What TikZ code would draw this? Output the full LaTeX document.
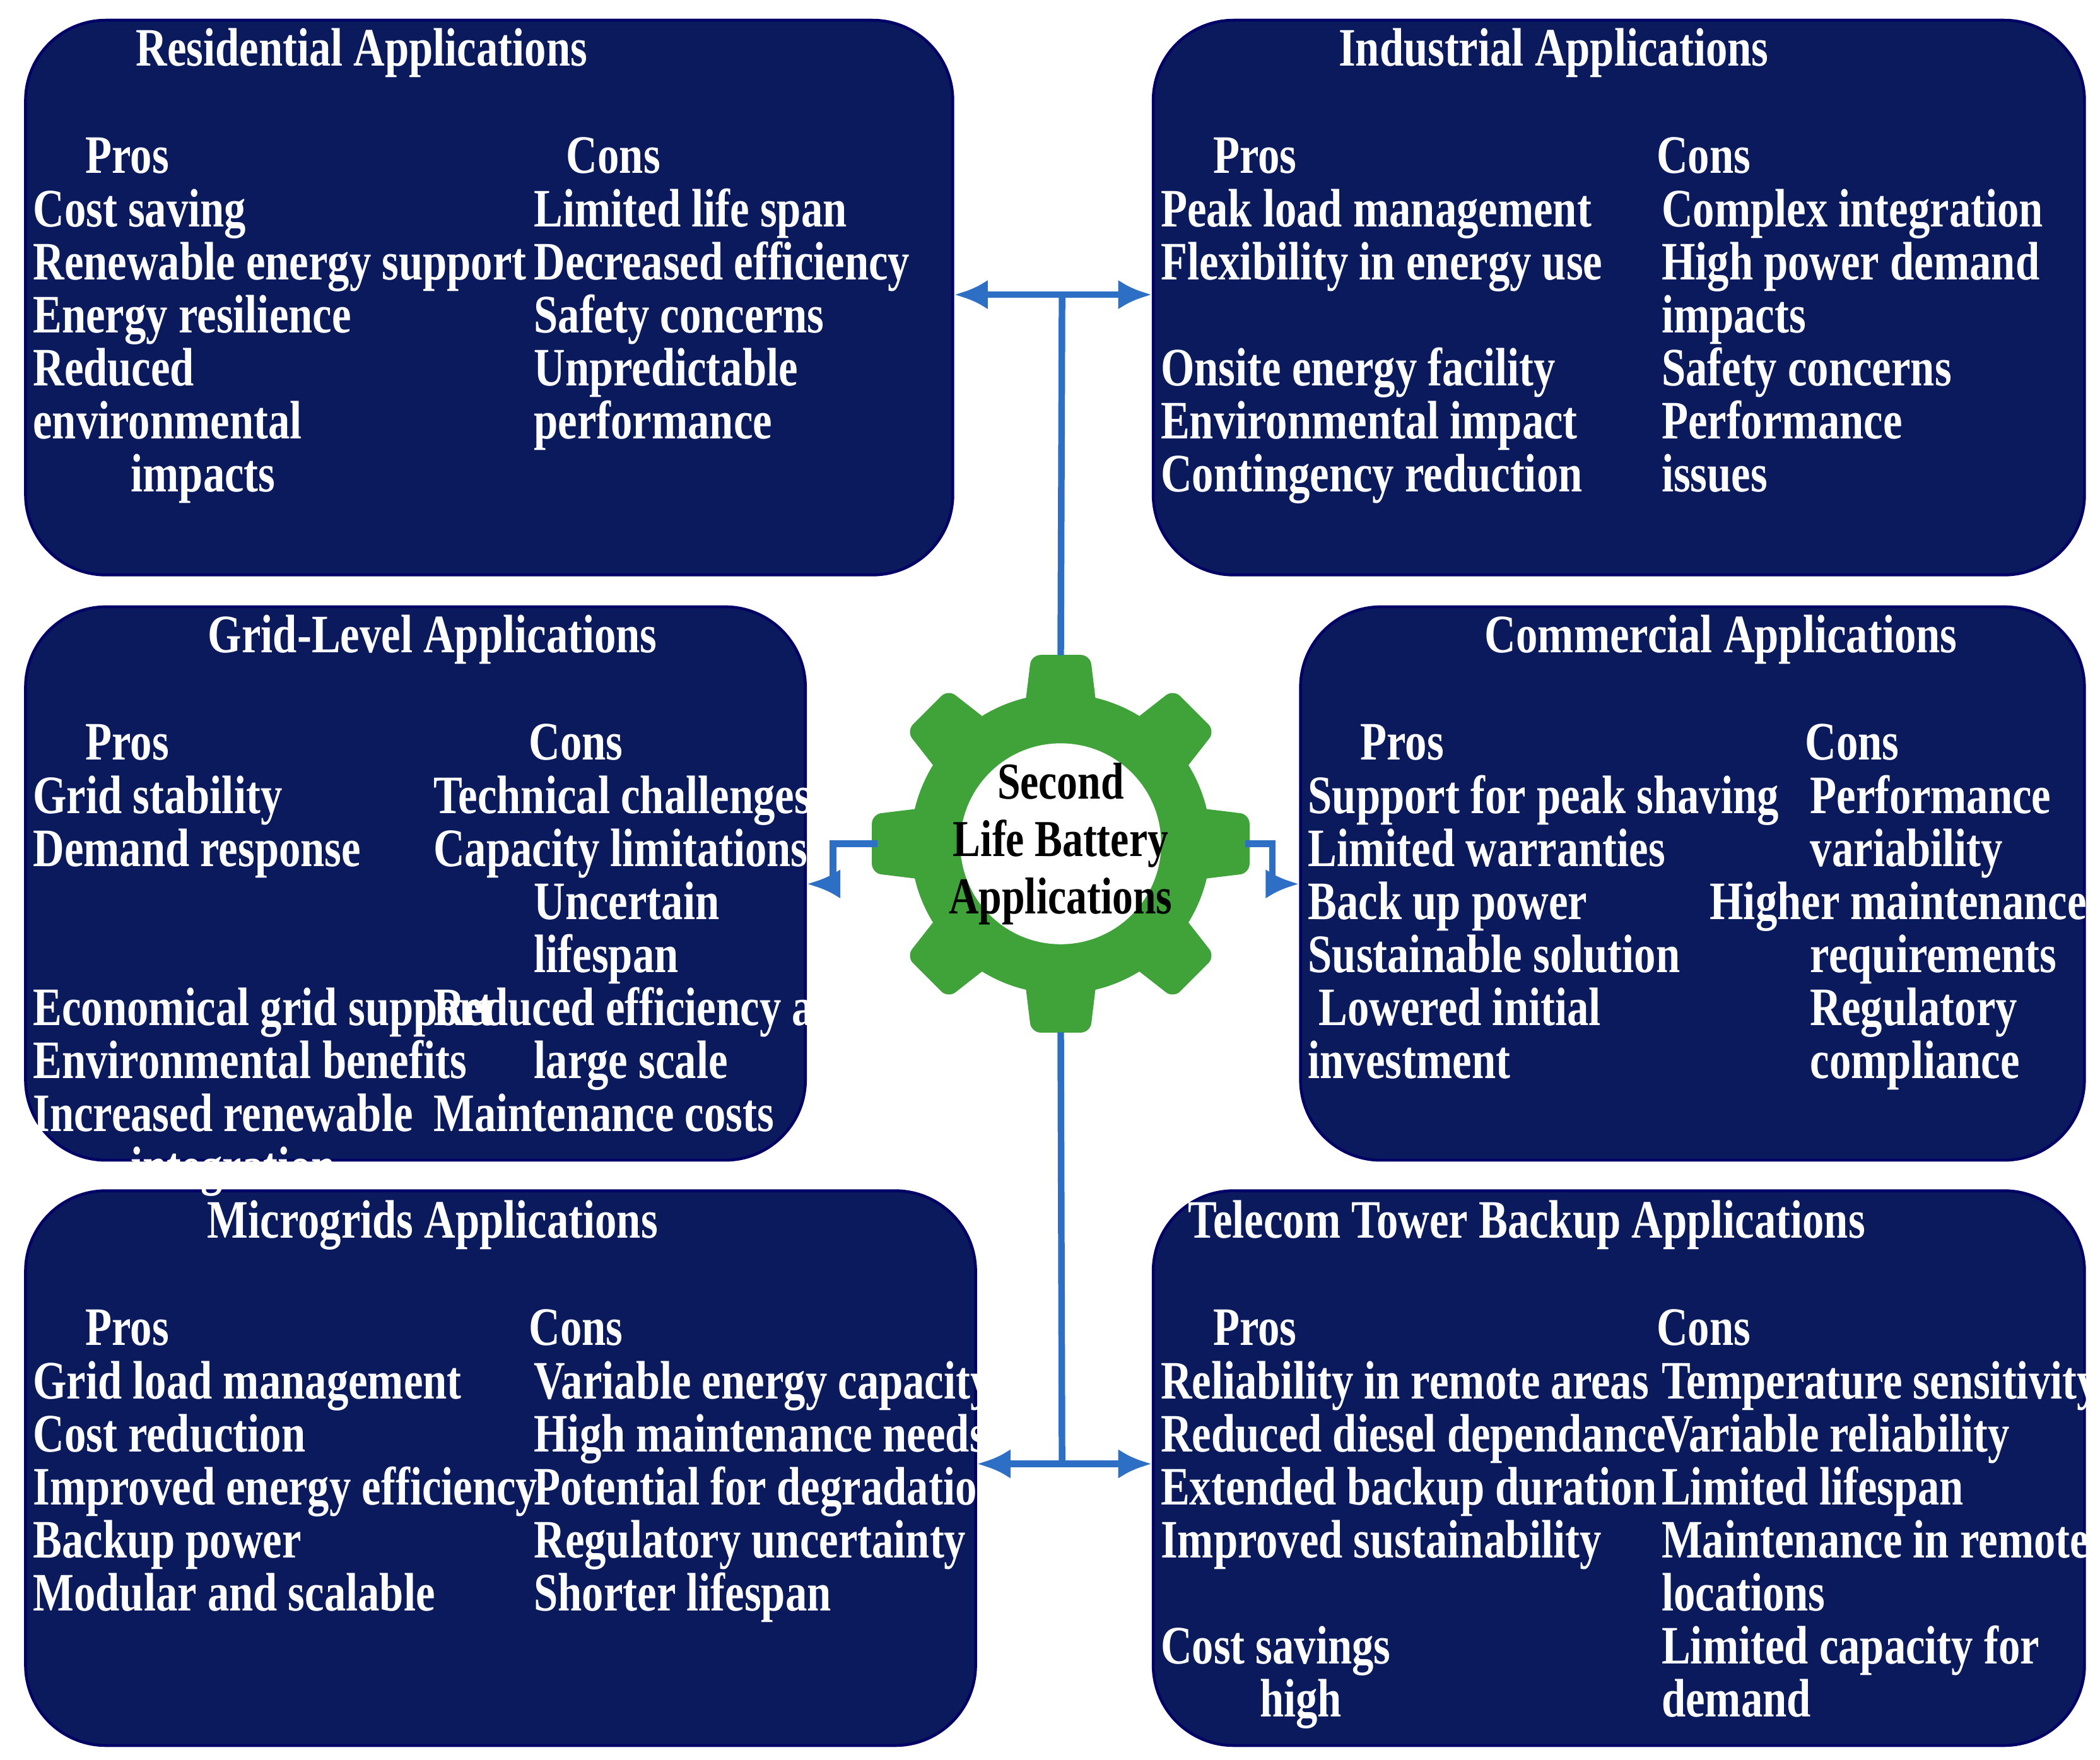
\documentclass[tikz,border=0pt]{standalone}
\usepackage{fontspec}
\setmainfont{Liberation Serif}[FakeStretch=0.8]
\usetikzlibrary{arrows.meta,calc}
\definecolor{navy}{HTML}{0A1A5C}
\definecolor{lblue}{HTML}{2E6FC6}
\definecolor{ggreen}{HTML}{3FA33A}
\begin{document}
\begin{tikzpicture}[x=0.01cm,y=-0.01cm,
 box/.style={draw=blue!40!black,line width=0.6pt,fill=navy,rounded corners=0.6cm},
 txt/.style={text=white,font=\fontsize{11.5}{13}\selectfont\bfseries,inner sep=0pt,text height=1.6ex,text depth=0.45ex},
 lw/.style={txt,anchor=west},
 conn/.style={draw=lblue,line width=1.4pt},
 arr/.style={conn,-{Latex[length=0.25cm,width=0.22cm]}}]
\useasboundingbox (0,0) rectangle (1568,1314);
\fill[white] (0,0) rectangle (1568,1314);
% boxes
\node[box,minimum width=6.92cm,minimum height=4.14cm,anchor=north west] (res) at (18,14) {};
\node[box,minimum width=6.95cm,minimum height=4.14cm,anchor=north west] (ind) at (860,14) {};
\node[box,minimum width=5.82cm,minimum height=4.13cm,anchor=north west] (grid) at (18,452) {};
\node[box,minimum width=5.85cm,minimum height=4.13cm,anchor=north west] (com) at (970,452) {};
\node[box,minimum width=7.09cm,minimum height=4.14cm,anchor=north west] (mic) at (18,888) {};
\node[box,minimum width=6.95cm,minimum height=4.14cm,anchor=north west] (tel) at (860,888) {};
% titles & headers
\node[txt] (t1) at (270,40) {Residential Applications};
\node[txt] (t2) at (1160,40) {Industrial Applications};
\node[txt] (t3) at (323,478) {Grid-Level Applications};
\node[txt] (t4) at (1285,478) {Commercial Applications};
\node[txt] (t5) at (323,915) {Microgrids Applications};
\node[txt] (t6) at (1140,915) {Telecom Tower Backup Applications};
\foreach \x/\y/\t [count=\k] in {95/120/Pros,458/120/Cons,937/120/Pros,1272/120/Cons,95/558/Pros,430/558/Cons,1047/558/Pros,1383/558/Cons,95/995/Pros,430/995/Cons,937/995/Pros,1272/995/Cons}
  \node[txt] (h\k) at (\x,\y) {\t};
% columns
\newcommand{\col}[4]{\foreach \t [count=\i] in {#4} \node[lw] (#1-\i) at (#2,{#3+(\i-1)*39.6}) {\t};}
\col{rp}{24}{160}{{Cost saving},{Renewable energy support},{Energy resilience},{Reduced},{environmental},{\hspace*{0.73cm}impacts}}
\col{rc}{398}{160}{{Limited life span},{Decreased efficiency},{Safety concerns},{Unpredictable},{performance}}
\col{ip}{866}{160}{{Peak load management},{Flexibility in energy use},{},{Onsite energy facility},{Environmental impact},{Contingency reduction}}
\col{ic}{1240}{160}{{Complex integration},{High power demand},{impacts},{Safety concerns},{Performance},{issues}}
\col{gp}{24}{598}{{Grid stability},{Demand response},{},{},{Economical grid support},{Environmental benefits},{Increased renewable},{\hspace*{0.73cm}integration}}
\col{gc}{323}{598}{{Technical challenges},{Capacity limitations},{\hspace*{0.75cm}Uncertain},{\hspace*{0.75cm}lifespan},{Reduced efficiency at},{\hspace*{0.75cm}large scale},{Maintenance costs}}
\col{cp}{976}{598}{{Support for peak shaving},{Limited warranties},{Back up power},{Sustainable solution},{\hspace*{0.08cm}Lowered initial},{investment}}
\col{cc}{1276}{598}{{\hspace*{0.75cm}Performance},{\hspace*{0.75cm}variability},{Higher maintenance},{\hspace*{0.75cm}requirements},{\hspace*{0.75cm}Regulatory},{\hspace*{0.75cm}compliance}}
\col{mp}{24}{1035}{{Grid load management},{Cost reduction},{Improved energy efficiency},{Backup power},{Modular and scalable}}
\col{mc}{398}{1035}{{Variable energy capacity},{High maintenance needs},{Potential for degradation},{Regulatory uncertainty},{Shorter lifespan}}
\col{tp}{866}{1035}{{Reliability in remote areas},{Reduced diesel dependance},{Extended backup duration},{Improved sustainability},{},{Cost savings},{\hspace*{0.74cm}high}}
\col{tc}{1240}{1035}{{Temperature sensitivity},{Variable reliability},{Limited lifespan},{Maintenance in remote},{locations},{Limited capacity for},{demand}}
% gear
\node[circle,minimum size=2.8cm,inner sep=0] (gear) at (792,630) {};
\fill[ggreen] (gear.center) circle (112);
\foreach \a in {0,45,...,315}
  \fill[ggreen,rounded corners=2pt,rotate around={\a:(gear.center)}] ($(gear.center)+(100,-27)$) -- ($(gear.center)+(141,-22)$) -- ($(gear.center)+(141,22)$) -- ($(gear.center)+(100,27)$) -- cycle;
\fill[white] (gear.center) circle (75);
\node[font=\fontsize{11}{12.2}\selectfont\bfseries,align=center,inner sep=0] (gt) at (gear.center) {Second\\Life Battery\\Applications};
% connectors
\coordinate (top) at (793,220);
\coordinate (bot) at (793,1093);
\draw[conn] (gear.north) -- (top);
\draw[conn] (gear.south) -- (bot);
\draw[arr] (top) -- (res.east |- top);
\draw[arr] (top) -- (ind.west |- top);
\draw[arr] (bot) -- (mic.east |- bot);
\draw[arr] (bot) -- (tel.west |- bot);
\coordinate (l1) at (622,630); \coordinate (r1) at (950,630);
\draw[arr] (655,630) -- (l1) -- (622,660) -- (grid.east |- 0,660);
\draw[arr] (930,630) -- (r1) -- (950,660) -- (com.west |- 0,660);
\end{tikzpicture}
\end{document}
